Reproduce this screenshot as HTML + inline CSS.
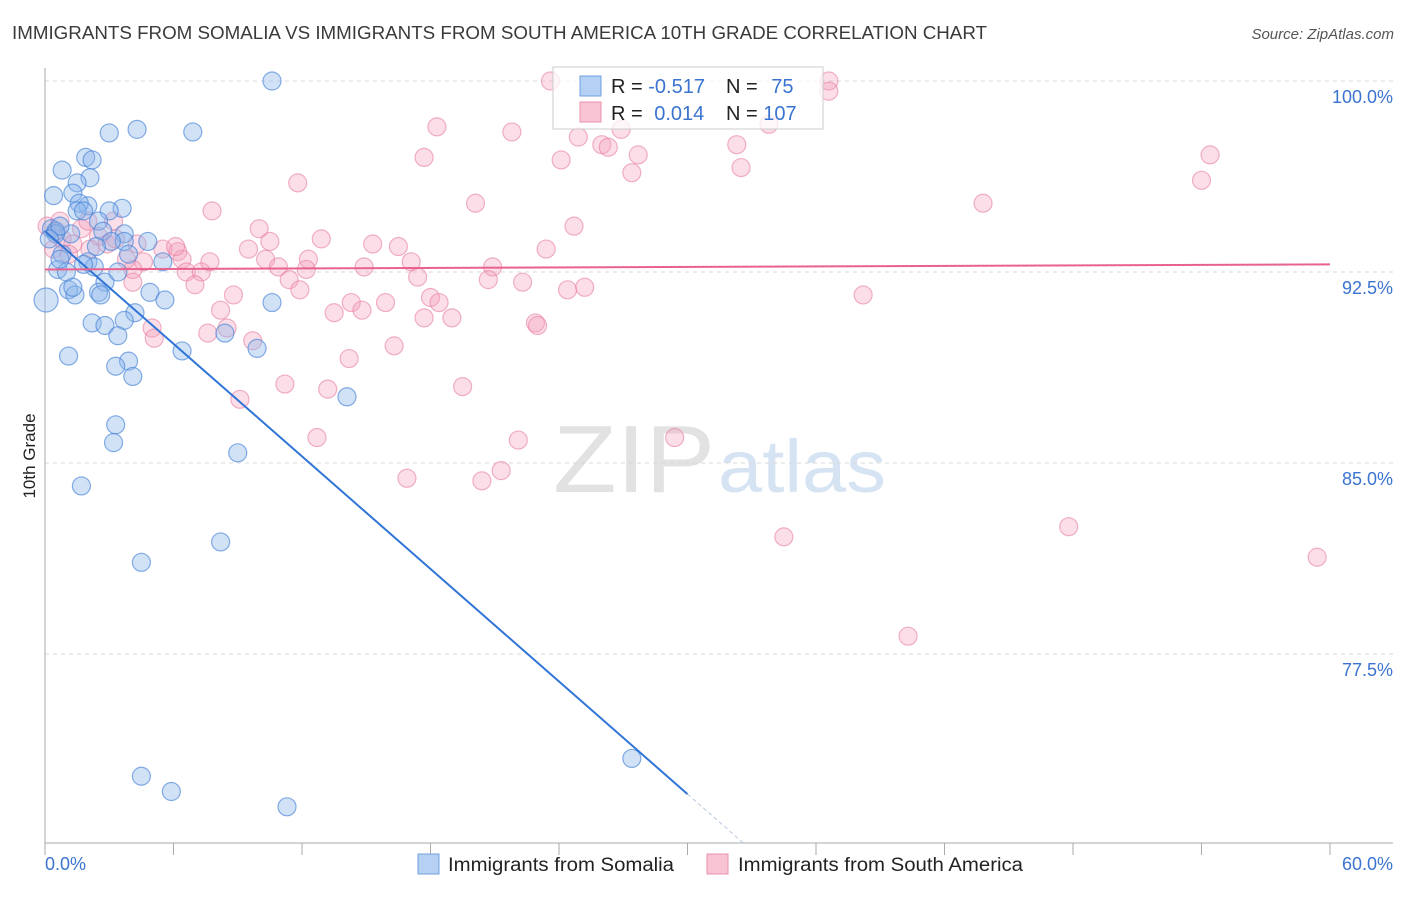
<!DOCTYPE html>
<html><head><meta charset="utf-8"><style>
body{margin:0;background:#fff;font-family:"Liberation Sans",sans-serif}
svg text{font-family:"Liberation Sans",sans-serif}
</style></head><body>
<svg width="1406" height="892" viewBox="0 0 1406 892">
<text x="12" y="39" font-size="18" fill="#3a3a3a" textLength="975" lengthAdjust="spacingAndGlyphs">IMMIGRANTS FROM SOMALIA VS IMMIGRANTS FROM SOUTH AMERICA 10TH GRADE CORRELATION CHART</text>
<text x="1394" y="39" font-size="15" fill="#555" font-style="italic" text-anchor="end">Source: ZipAtlas.com</text>
<g>
<text x="553" y="492" font-size="96" font-family="Liberation Serif" fill="#e2e2e2" textLength="162" lengthAdjust="spacingAndGlyphs">ZIP</text>
<text x="718" y="492" font-size="74" fill="#d6e3f3" textLength="168" lengthAdjust="spacingAndGlyphs">atlas</text>
</g>
<g id="grid"></g>
<g id="axes"></g>
<g id="pts"></g>
<g id="trend"></g>
<text x="35" y="456" font-size="17" fill="#222" transform="rotate(-90 35 456)" text-anchor="middle">10th Grade</text>
<g>
<rect x="553" y="67" width="270" height="62" fill="rgba(255,255,255,0.75)" stroke="#ccc"/>
<rect x="580" y="76" width="21" height="20" fill="#b5d0f3" stroke="#6f9fe0"/>
<rect x="580" y="102" width="21" height="20" fill="#f8c3d3" stroke="#eb92ae"/>
<text x="611" y="93" font-size="20" fill="#222">R = <tspan fill="#3b74d0">-0.517</tspan></text>
<text x="726" y="93" font-size="20" fill="#222">N = <tspan fill="#3b74d0" dx="8">75</tspan></text>
<text x="611" y="120" font-size="20" fill="#222">R = <tspan fill="#3b74d0" dx="6">0.014</tspan></text>
<text x="726" y="120" font-size="20" fill="#222">N = <tspan fill="#3b74d0">107</tspan></text>
</g>
<g>
<rect x="418" y="854" width="21" height="20" fill="#b5d0f3" stroke="#6f9fe0"/>
<text x="448" y="871" font-size="19" fill="#222" textLength="226" lengthAdjust="spacingAndGlyphs">Immigrants from Somalia</text>
<rect x="707" y="854" width="21" height="20" fill="#f8c3d3" stroke="#eb92ae"/>
<text x="738" y="871" font-size="19" fill="#222" textLength="285" lengthAdjust="spacingAndGlyphs">Immigrants from South America</text>
</g>
</svg>
<script>
const yTicks=[100,92.5,85,77.5];
const yTickLabels=["100.0%","92.5%","85.0%","77.5%"];
const xTicks=[0,6,12,18,24,30,36,42,48,54,60];
const xEndLabels=["0.0%","60.0%"];
const somaliaX=[10.6,3.0,4.3,6.9,1.9,0.8,2.2,2.1,1.5,0.4,1.3,2.0,1.6,1.5,3.6,3.0,2.5,0.3,0.5,1.2,2.7,3.7,4.8,3.7,3.1,2.4,0.8,3.9,2.0,5.5,0.6,1.0,2.3,2.8,1.1,1.4,2.5,4.2,3.7,2.2,2.8,0.05,3.4,8.4,9.9,6.4,1.1,3.9,3.3,4.1,10.6,14.1,3.3,3.2,9.0,1.7,8.2,4.5,27.4,4.5,5.9,11.3,0.5,0.7,0.2,1.8,2.6,3.4,0.7,1.8,1.3,4.9,5.6];
const somaliaY=[100.0,97.96,98.1,98.0,97.0,96.5,96.9,96.2,96.0,95.5,95.6,95.1,95.2,94.9,95.0,94.9,94.5,94.2,94.1,94.0,94.1,94.0,93.7,93.7,93.7,93.5,93.2,93.2,92.9,92.9,92.6,92.5,92.7,92.1,91.8,91.6,91.7,90.9,90.6,90.5,90.4,91.4,90.0,90.1,89.5,89.4,89.2,89.0,88.8,88.4,91.3,87.6,86.5,85.8,85.4,84.1,81.9,81.1,73.4,72.7,72.1,71.5,94.0,94.3,93.8,92.8,91.6,92.5,93.0,94.9,91.9,91.7,91.4];
const southAmX=[23.6,36.6,36.6,18.3,21.8,24.9,26.9,33.8,26.0,26.3,27.7,24.1,17.7,27.4,32.5,32.3,54.4,54.0,11.8,20.1,43.8,7.8,24.7,10.0,12.9,10.5,15.3,16.5,9.5,6.2,23.4,6.4,4.6,12.3,10.3,17.1,20.9,6.6,7.3,10.9,14.9,12.2,4.1,7.0,17.4,20.7,22.3,11.4,24.4,25.2,8.8,18.0,18.4,14.3,15.9,13.5,14.8,8.2,19.0,17.7,22.9,23.0,38.2,8.5,5.0,7.6,9.7,5.1,16.3,14.2,11.2,13.2,19.5,9.1,12.7,22.1,29.4,16.9,20.4,21.3,34.5,47.8,59.4,40.3,0.1,0.5,0.8,1.3,0.4,1.1,2.5,2.9,3.3,3.8,4.1,1.7,2.0,4.3,5.5,2.1,7.7,6.1,11.9,3.2,0.7];
const southAmY=[100.0,100.0,99.6,98.2,98.0,97.8,98.1,98.3,97.5,97.4,97.1,96.9,97.0,96.4,96.6,97.5,97.1,96.1,96.0,95.2,95.2,94.9,94.3,94.2,93.8,93.7,93.6,93.5,93.4,93.3,93.4,93.0,92.9,93.0,93.0,92.9,92.7,92.5,92.5,92.7,92.7,92.6,92.6,92.0,92.3,92.2,92.1,92.2,91.8,91.9,91.6,91.5,91.3,91.3,91.3,90.9,91.0,91.0,90.7,90.7,90.5,90.4,91.6,90.3,90.3,90.1,89.8,89.9,89.6,89.1,88.1,87.9,88.0,87.5,86.0,85.9,86.0,84.4,84.3,84.7,82.1,82.5,81.3,78.2,94.3,94.1,93.8,93.6,93.4,93.2,93.9,93.6,93.8,93.0,92.1,94.2,94.5,93.6,93.4,93.4,92.9,93.5,91.8,94.5,94.5];
const somaliaTrend=[94.1,-0.7367]; // intercept, slope
const somaliaTrendSolidEnd=30, somaliaTrendDashEnd=32.6;
const southAmTrend=[92.6,0.0033];

const NS="http://www.w3.org/2000/svg";
const X=v=>45+v/60*1285;
const Y=v=>81+(100-v)/7.5*191;
function mk(tag,attrs,parent){const e=document.createElementNS(NS,tag);for(const k in attrs)e.setAttribute(k,attrs[k]);parent.appendChild(e);return e;}
const grid=document.getElementById('grid'),axes=document.getElementById('axes'),pts=document.getElementById('pts'),trend=document.getElementById('trend');
yTicks.forEach((t,i)=>{
 const l=mk('line',{x1:45,x2:1393,y1:Y(t),y2:Y(t),stroke:'#d8d8d8','stroke-dasharray':'4,4'},grid);
 
 
 const tx=mk('text',{x:1393,y:Y(t)+22,'font-size':18,fill:'#3b74d0','text-anchor':'end'},grid);
 tx.textContent=yTickLabels[i];
 
 
});
let a=mk('line',{x1:45,x2:45,y1:68,y2:843,stroke:'#aaa'},axes);


a=mk('line',{x1:45,x2:1393,y1:843,y2:843,stroke:'#aaa'},axes);


xTicks.forEach(t=>{
 const l=mk('line',{x1:X(t),x2:X(t),y1:843,y2:855,stroke:'#aaa'},axes);
 
 
});
let xl=mk('text',{x:45,y:870,'font-size':18,fill:'#3b74d0'},axes);xl.textContent=xEndLabels[0];


xl=mk('text',{x:1393,y:870,'font-size':18,fill:'#3b74d0','text-anchor':'end'},axes);xl.textContent=xEndLabels[1];


southAmX.forEach((x,i)=>{
 const c=mk('circle',{cx:X(x),cy:Y(southAmY[i]),r:9,fill:'rgba(244,160,188,0.35)',stroke:'rgba(232,128,160,0.6)','stroke-width':1.2},pts);
 
 
});
somaliaX.forEach((x,i)=>{
 const c=mk('circle',{cx:X(x),cy:Y(somaliaY[i]),r:i==41?12:9,fill:'rgba(140,182,236,0.4)',stroke:'rgba(70,130,215,0.65)','stroke-width':1.2},pts);
 
 
});
const f=(t,x)=>t[0]+t[1]*x;
let tl=mk('line',{x1:X(0),y1:Y(f(somaliaTrend,0)),x2:X(somaliaTrendSolidEnd),y2:Y(f(somaliaTrend,somaliaTrendSolidEnd)),stroke:'#2f74d6','stroke-width':2},trend);


tl=mk('line',{x1:X(somaliaTrendSolidEnd),y1:Y(f(somaliaTrend,somaliaTrendSolidEnd)),x2:X(somaliaTrendDashEnd),y2:Y(f(somaliaTrend,somaliaTrendDashEnd)),stroke:'#b8c8e0','stroke-width':1,'stroke-dasharray':'4,3'},trend);


tl=mk('line',{x1:X(0),y1:Y(f(southAmTrend,0)),x2:X(60),y2:Y(f(southAmTrend,60)),stroke:'#e8628d','stroke-width':2},trend);


</script>
</body></html>
